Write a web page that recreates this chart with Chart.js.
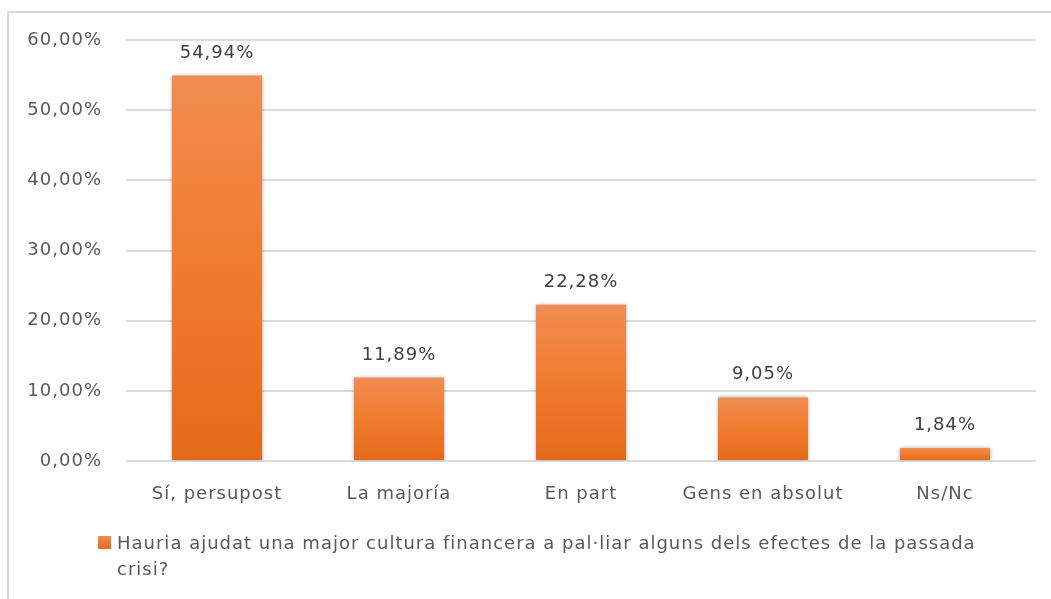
<!DOCTYPE html>
<html>
<head>
<meta charset="utf-8">
<script src="https://cdn.jsdelivr.net/npm/chart.js@4"></script>
<style>
  body { margin: 0; background: #fff; font-family: "DejaVu Sans", sans-serif; }
  #wrap { position: relative; width: 1051px; height: 599px; overflow: hidden; }
  #frame { position: absolute; left: 7px; top: 11px; width: 1100px; height: 700px;
           border-left: 2px solid #d9d9d9; border-top: 2px solid #d9d9d9; }
  #legend { position: absolute; left: 98px; top: 530px; display: flex; align-items: flex-start;
            color: #595959; font-size: 18px; line-height: 26px; letter-spacing: 1px; }
  #legend .box { width: 13px; height: 13px; margin: 6px 6px 0 0; flex: none;
                 background: linear-gradient(#f28c4f, #e8691b); }
</style>
</head>
<body>
<div id="wrap">
  <canvas id="grafik" width="1051" height="599"></canvas>
  <div id="frame"></div>
  <div id="legend"><div class="box"></div><div id="legendText"></div></div>
</div>
<script>
// ===== DATA =====
const kategori = ["Sí, persupost", "La majoría", "En part", "Gens en absolut", "Ns/Nc"];
const nilai = [54.94, 11.89, 22.28, 9.05, 1.84];
const tickY = [0, 10, 20, 30, 40, 50, 60];
const judulSeri = "Hauria ajudat una major cultura financera a pal·liar alguns dels efectes de la passada crisi?";

function formatPersen(v) {
  return v.toFixed(2).replace(".", ",") + "%";
}

// legend html (baris kedua dipaksa seperti di gambar)
document.getElementById("legendText").innerHTML =
  judulSeri.replace(" crisi?", "<br>crisi?");

// gradasi per batang, terang di atas, gelap di bawah
function warnaBatang(ctx) {
  const chart = ctx.chart;
  const y = chart.scales.y;
  if (!y || ctx.dataIndex === undefined) return "#ef7a2c";
  const atas = y.getPixelForValue(nilai[ctx.dataIndex]);
  const bawah = y.getPixelForValue(0);
  if (!isFinite(atas) || !isFinite(bawah) || atas === bawah) return "#ef7a2c";
  const g = chart.ctx.createLinearGradient(0, atas, 0, bawah);
  g.addColorStop(0, "#f18c52");
  g.addColorStop(0.5, "#f07b2d");
  g.addColorStop(1, "#e5691b");
  return g;
}

// huruf agak renggang seperti di gambar
const renggang = {
  id: "renggang",
  beforeUpdate(chart) { chart.ctx.letterSpacing = "1px"; },
  beforeDraw(chart) { chart.ctx.letterSpacing = "1px"; }
};

// bayangan tipis di batang
const bayangan = {
  id: "bayangan",
  beforeDatasetsDraw(chart) {
    const c = chart.ctx;
    c.save();
    c.shadowColor = "rgba(0,0,0,0.3)";
    c.shadowBlur = 4;
  },
  afterDatasetsDraw(chart) {
    chart.ctx.restore();
  }
};

// label nilai di atas batang
const labelNilai = {
  id: "labelNilai",
  afterDatasetsDraw(chart) {
    const c = chart.ctx;
    const meta = chart.getDatasetMeta(0);
    c.save();
    c.font = "18px 'DejaVu Sans'";
    c.fillStyle = "#404040";
    c.textAlign = "center";
    c.textBaseline = "alphabetic";
    meta.data.forEach((bar, i) => {
      c.fillText(formatPersen(nilai[i]), bar.x, bar.y - 18);
    });
    c.restore();
  }
};

new Chart(document.getElementById("grafik"), {
  type: "bar",
  data: {
    labels: kategori,
    datasets: [{
      label: judulSeri,
      data: nilai,
      backgroundColor: warnaBatang,
      categoryPercentage: 1,
      barPercentage: 0.495
    }]
  },
  options: {
    responsive: false,
    animation: false,
    layout: { padding: { top: 40, right: 15, bottom: 88, left: 0 } },
    plugins: {
      legend: { display: false },
      tooltip: { enabled: false }
    },
    scales: {
      x: {
        grid: { display: false },
        border: { display: false },
        ticks: { color: "#595959", font: { family: "DejaVu Sans", size: 18 }, padding: 15, maxRotation: 0 },
        afterFit(s) { s.height = 50; }
      },
      y: {
        min: 0,
        max: 60,
        afterBuildTicks(s) { s.ticks = tickY.map(v => ({ value: v })); },
        grid: { color: "#dcdcdc", lineWidth: 2, drawTicks: false },
        border: { display: false },
        ticks: {
          color: "#595959",
          font: { family: "DejaVu Sans", size: 18 },
          padding: 24,
          callback: v => formatPersen(v)
        },
        afterFit(s) { s.width = 126; }
      }
    }
  },
  plugins: [renggang, bayangan, labelNilai]
});
</script>
</body>
</html>
